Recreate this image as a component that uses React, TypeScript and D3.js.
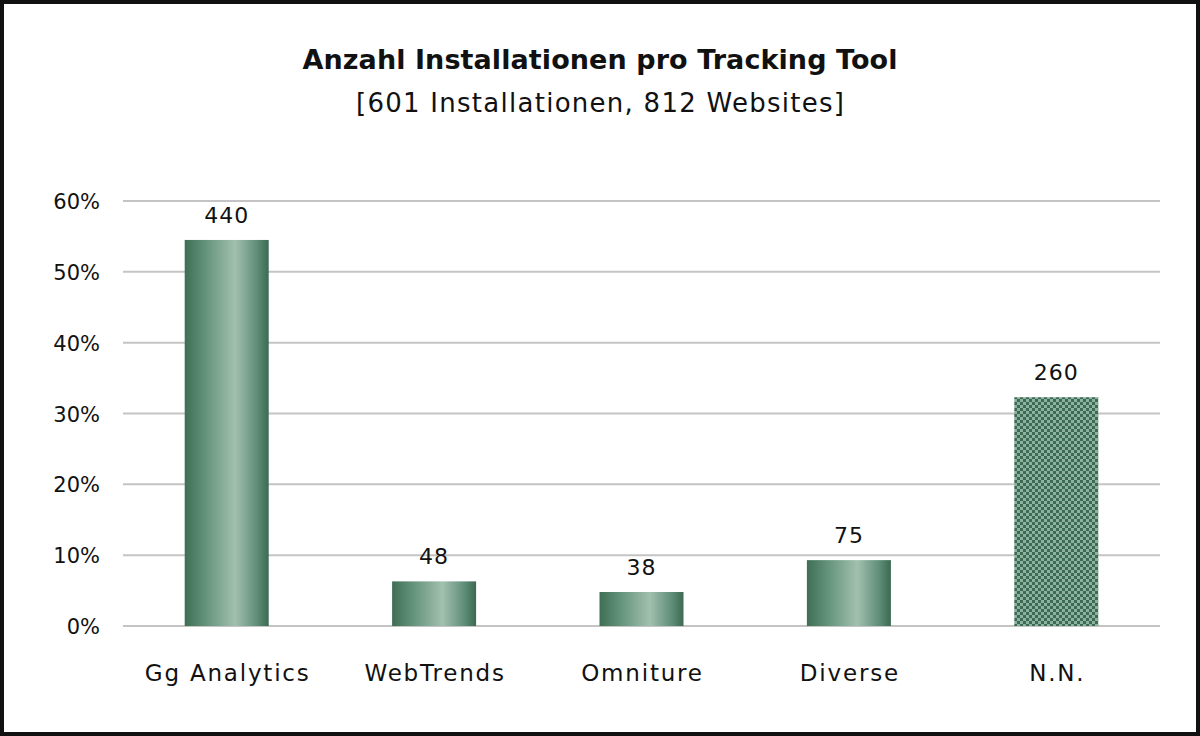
import React, { useEffect, useRef } from "react";
import * as d3 from "d3";

// chart data
const categories = ["Gg Analytics", "WebTrends", "Omniture", "Diverse", "N.N."];
const counts = [440, 48, 38, 75, 260];
const shares = [54.5, 6.3, 4.8, 9.3, 32.3];
const yTicks = [0, 10, 20, 30, 40, 50, 60];

const WIDTH = 1200;
const HEIGHT = 736;

export default function App() {
  const svgRef = useRef<SVGSVGElement>(null);

  useEffect(() => {
    if (!svgRef.current) return;
    const svg = d3.select(svgRef.current);
    svg.selectAll("*").remove();

    const margin = { top: 201, right: 40, bottom: 110, left: 123 };
    const chartWidth = WIDTH - margin.left - margin.right;
    const chartHeight = HEIGHT - margin.top - margin.bottom;
    const font = "'DejaVu Sans', sans-serif";

    const defs = svg.append("defs");

    // cylinder-like shading on the regular bars
    const grad = defs
      .append("linearGradient")
      .attr("id", "barGrad")
      .attr("x1", "0%")
      .attr("x2", "100%");
    grad.append("stop").attr("offset", "0%").attr("stop-color", "#3e6f55");
    grad.append("stop").attr("offset", "25%").attr("stop-color", "#64937a");
    grad.append("stop").attr("offset", "60%").attr("stop-color", "#a2c0af");
    grad.append("stop").attr("offset", "85%").attr("stop-color", "#62907a");
    grad.append("stop").attr("offset", "100%").attr("stop-color", "#3b6a51");

    // checkerboard for the N.N. bar
    const pat = defs
      .append("pattern")
      .attr("id", "checker")
      .attr("patternUnits", "userSpaceOnUse")
      .attr("width", 6)
      .attr("height", 6);
    pat.append("rect").attr("width", 6).attr("height", 6).attr("fill", "#8db1a0");
    pat.append("rect").attr("width", 3).attr("height", 3).attr("fill", "#3c6a53");
    pat.append("rect").attr("x", 3).attr("y", 3).attr("width", 3).attr("height", 3).attr("fill", "#3c6a53");

    svg
      .append("rect")
      .attr("x", 2)
      .attr("y", 2)
      .attr("width", WIDTH - 4)
      .attr("height", HEIGHT - 4)
      .attr("fill", "#fff")
      .attr("stroke", "#111")
      .attr("stroke-width", 4);

    svg
      .append("text")
      .attr("x", WIDTH / 2)
      .attr("y", 69)
      .attr("text-anchor", "middle")
      .style("font-family", font)
      .style("font-size", "27px")
      .style("font-weight", "bold")
      .style("fill", "#111")
      .attr("textLength", 595)
      .text("Anzahl Installationen pro Tracking Tool");

    svg
      .append("text")
      .attr("x", WIDTH / 2)
      .attr("y", 112)
      .attr("text-anchor", "middle")
      .style("font-family", font)
      .style("font-size", "26px")
      .style("fill", "#111")
      .attr("textLength", 488)
      .text("[601 Installationen, 812 Websites]");

    const g = svg
      .append("g")
      .attr("transform", `translate(${margin.left},${margin.top})`);

    const x = d3
      .scaleBand<string>()
      .domain(categories)
      .range([0, chartWidth])
      .paddingInner(0.595)
      .paddingOuter(0.2975);

    const y = d3.scaleLinear().domain([0, 60]).range([chartHeight, 0]);

    // gridlines
    g.append("g")
      .selectAll("line")
      .data(yTicks)
      .join("line")
      .attr("x1", 0)
      .attr("x2", chartWidth)
      .attr("y1", (d) => y(d))
      .attr("y2", (d) => y(d))
      .attr("stroke", "#c4c4c4")
      .attr("stroke-width", 2);

    // y labels
    g.append("g")
      .selectAll("text")
      .data(yTicks)
      .join("text")
      .attr("x", -23)
      .attr("y", (d) => y(d) + 8)
      .attr("text-anchor", "end")
      .style("font-family", font)
      .style("font-size", "21px")
      .style("fill", "#111")
      .text((d) => `${d}%`);

    // bars
    g.append("g")
      .selectAll("rect")
      .data(categories)
      .join("rect")
      .attr("x", (d) => x(d)!)
      .attr("width", x.bandwidth())
      .attr("y", (d, i) => y(shares[i]))
      .attr("height", (d, i) => chartHeight - y(shares[i]))
      .attr("fill", (d, i) => (i === categories.length - 1 ? "url(#checker)" : "url(#barGrad)"));

    // value labels
    g.append("g")
      .selectAll("text")
      .data(categories)
      .join("text")
      .attr("x", (d) => x(d)! + x.bandwidth() / 2)
      .attr("y", (d, i) => y(shares[i]) - 17)
      .attr("text-anchor", "middle")
      .style("font-family", font)
      .style("font-size", "22px")
      .style("letter-spacing", "1px")
      .style("fill", "#111")
      .text((d, i) => counts[i]);

    // category labels
    g.append("g")
      .selectAll("text")
      .data(categories)
      .join("text")
      .attr("x", (d) => x(d)! + x.bandwidth() / 2 + 1)
      .attr("y", chartHeight + 55)
      .attr("text-anchor", "middle")
      .style("font-family", font)
      .style("font-size", "23px")
      .style("letter-spacing", "1.8px")
      .style("fill", "#111")
      .text((d) => d);
  }, []);

  return (
    <div style={{ position: "absolute", left: 0, top: 0 }}>
      <svg ref={svgRef} width={WIDTH} height={HEIGHT} style={{ display: "block" }} />
    </div>
  );
}
